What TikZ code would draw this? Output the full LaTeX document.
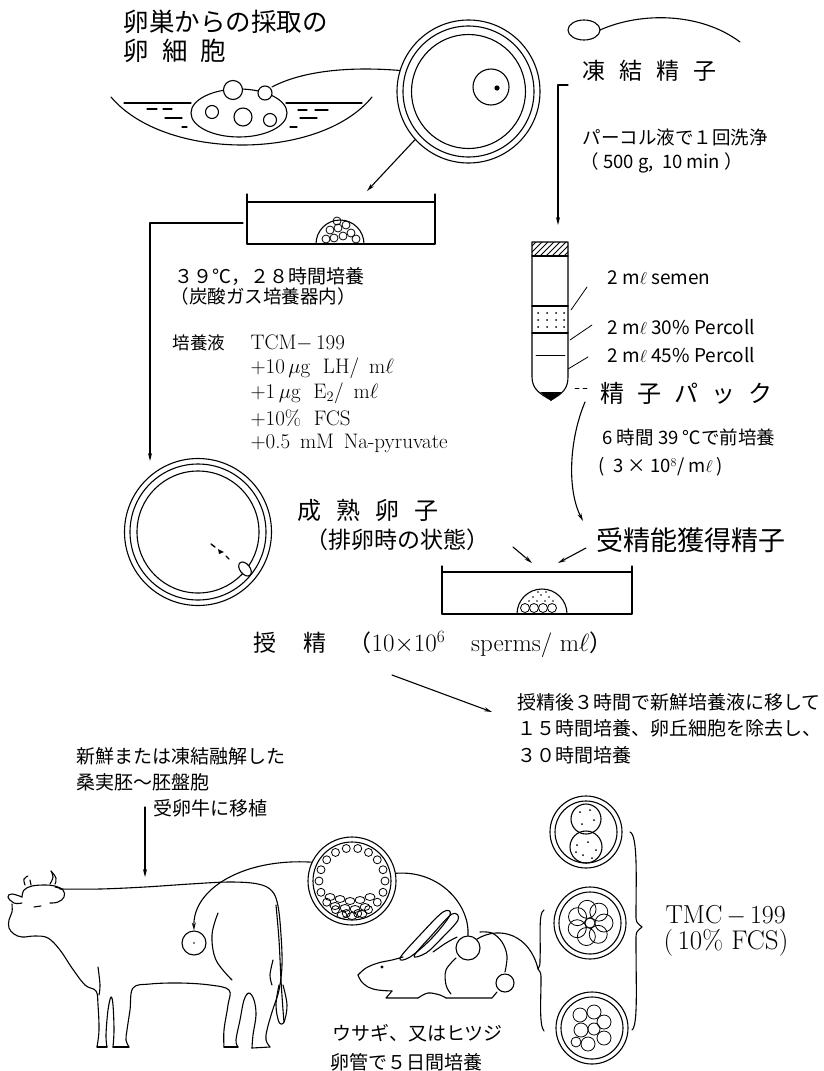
\documentclass[tikz,border=0pt]{standalone}
\usepackage{fontspec}
\newfontfamily\jpf{Noto Sans CJK JP}
\usetikzlibrary{arrows.meta,calc}
\newcommand{\fsz}[1]{\fontsize{#1}{#1}\selectfont}
\begin{document}
\begin{tikzpicture}[x=1pt,y=-1pt,line width=1.1pt,line cap=round,line join=round,
  txt/.style={inner sep=0pt,anchor=west},
  jp/.style={txt,font=\jpf\fsz{#1}},
  lm/.style={txt,font=\rmfamily\fsz{#1}},
  arr/.style={-{Stealth[length=8pt,width=4pt]}},
  thin/.style={line width=0.8pt},
  ring/.style={circle,draw,inner sep=0pt,minimum size=#1}]
\fill[white] (0,0) rectangle (824,1071);
\useasboundingbox (0,0) rectangle (824,1071);

% ---------- ovary and follicles ----------
\node[jp=25.5] (ovtitle) at (123,22) {卵巣からの採取の};
\node[jp=25.5] (ovtitle2) at (123,51) {卵\hspace{13pt}細\hspace{13pt}胞};
\draw (111,97) .. controls (165,161) and (320,161) .. (372,97);
\draw (124,103) -- (191,103) (286,103) -- (362,103);
\draw[fill=white] (239,113) ellipse [x radius=48pt,y radius=24pt];
\draw[fill=white] (233,90) circle[radius=9.5pt];
\draw[fill=white] (265,93) circle[radius=7pt];
\draw (212,112) circle[radius=6.5pt] (243,117) circle[radius=9pt] (270,120) circle[radius=6.5pt];
\draw (147,109)--(157,109) (163,109)--(172,109) (165,118)--(182,118) (182,127)--(187,127)
      (298,110)--(307,110) (315,110)--(328,110) (300,118)--(317,118) (290,127)--(297,127);
\coordinate (fol) at (272,87);

% ---------- collected oocyte ----------
\node[ring=143pt] (oo1) at (468.5,91.5) {};
\draw (oo1.center) circle[radius=65.5pt] (oo1.center) circle[radius=57pt];
\draw (491,87) circle[radius=18pt];
\fill (497,88) circle[radius=2.6pt];
\draw (fol) .. controls (300,72) and (345,66) .. (oo1.163);

% ---------- culture dish 1 ----------
\coordinate (d1in) at (367,191);
\draw[arr] (oo1.222) -- (d1in);
\draw (247,194) -- (247,244) -- (435,244) -- (435,194);
\draw (247,202) -- (435,202);
\draw (316,244) arc[start angle=180,end angle=0,radius=24pt];
\foreach \p in {(326,239),(334,238),(343,236),(351,233),(330,230),(338,228),(346,225),(337,221),(356,239)}
  \draw[thin] \p circle[radius=4pt];
\coordinate (d1left) at (243,223);
\coordinate (oo2in) at (150,461);
\draw[arr] (d1left) -- (150,223) -- (oo2in);

\node[jp=19] (cult) at (174,277) {３９℃，２８時間培養};
\node[jp=18.5] (co2) at (170,296) {（炭酸ガス培養器内）};
\node[jp=17.5] (med) at (172,343) {培養液};
\node[lm=21] (tcm) at (250,343) {TCM$-$\,199};
\node[lm=21] (lh) at (250,368) {+10\,$\mu$g\ \ LH/\ \,m$\ell$};
\node[lm=21] (e2) at (250,393) {+1\,$\mu$g\ \ E$_2$/\ \,m$\ell$};
\node[lm=21] (fcs1) at (250,418) {+10\%\ \ FCS};
\node[lm=21] (pyr) at (250,443) {+0.5\ \,mM\ \,Na-pyruvate};

% ---------- frozen sperm ----------
\draw (584,30) ellipse[x radius=16pt,y radius=10pt];
\coordinate (sphead) at (600,30);
\draw (sphead) .. controls (640,12) and (700,12) .. (740,42);
\node[jp=23] (frz) at (582,71) {凍\hspace{14pt}結\hspace{14pt}精\hspace{14pt}子};
\coordinate (frzc) at (568,85);
\coordinate (tubein) at (558,225);
\draw[arr] (frzc) -- (558,85) -- (tubein);
\node[jp=18.5] (wash) at (582,137) {パーコル液で１回洗浄};
\node[jp=18.5] (spin) at (580,163) {（ 500 g,\ \ 10 min ）};

% ---------- Percoll tube ----------
\coordinate (tubetip) at (551,400);
\draw (532,242) -- (532,377) .. controls (532,389) and (540,394) .. (tubetip)
      .. controls (562,394) and (568,389) .. (568,377) -- (568,242) -- cycle;
\draw (532,256) -- (568,256);
\begin{scope}
  \clip (532,242) rectangle (568,256);
  \foreach \i in {0,...,9} \draw[thin] (516+6*\i,256) -- (530+6*\i,242);
\end{scope}
\draw (532,306) -- (568,306) (532,333) -- (568,333);
\draw[thin] (536,355) -- (565,355);
\foreach \xx in {538,547,556,564} \foreach \yy in {313,320,327} \fill (\xx,\yy) circle[radius=1pt];
\fill (540,392) -- (562,392) -- (551,401) -- cycle;
\node[jp=19] (semen) at (607,278) {2 m$\ell$ semen};
\node[jp=19] (p30) at (607,327) {2 m$\ell$ 30\% Percoll};
\node[jp=19] (p45) at (607,355) {2 m$\ell$ 45\% Percoll};
\draw[thin] (587,287) -- (571,310);
\draw[thin] (592,325) -- (570,340);
\draw[thin] (588,357) -- (568,369);
\draw[thin,dash pattern=on 4pt off 4pt] (575,388) -- (590,388);
\node[jp=24] (pack) at (600,393) {精\hspace{13pt}子\hspace{13pt}パ\hspace{13pt}ッ\hspace{13pt}ク};
\node[jp=18.5] (pre) at (602,437) {6 時間 39 ℃で前培養};
\node[jp=18.5] (conc) at (598,467) {(\ \ 3 × 10$^8$/ m$\ell$\ )};
\coordinate (packc) at (585,402);
\coordinate (capin) at (583,521);
\draw[arr] (packc) .. controls (569,440) and (567,490) .. (capin);

% ---------- matured oocyte ----------
\node[ring=147pt] (oo2) at (198,532) {};
\draw (oo2.center) circle[radius=68pt] (oo2.center) circle[radius=61pt];
\draw[fill=white,rotate around={-52:(245,569)}] (245,569) ellipse[x radius=8pt,y radius=5pt];
\draw[line width=1.4pt] (211,544) -- (215,547) (226,556) -- (229,559);
\fill (218,549) -- (224,552) -- (219,554) -- cycle;
\node[jp=24] (mature) at (297,510) {成\hspace{15pt}熟\hspace{15pt}卵\hspace{15pt}子};
\node[jp=23] (ovstate) at (305,540) {（排卵時の状態）};
\node[jp=27] (capac) at (596,540) {受精能獲得精子};

% ---------- insemination dish ----------
\coordinate (ma) at (513,547);
\coordinate (mb) at (532,563);
\coordinate (ca) at (586,548);
\coordinate (cb) at (558,563);
\draw[arr] (ma) -- (mb);
\draw[arr] (ca) -- (cb);
\draw (442,566) -- (442,614) -- (632,614) -- (632,566);
\draw (442,572) -- (632,572);
\draw (517,614) arc[start angle=180,end angle=0,radius=25pt];
\foreach \xx in {525,534,543,552} \draw[thin] (\xx,608) circle[radius=4.5pt];
\foreach \xx/\yy in {533/597,541/595,549/597,529/601,537/601,545/601,553/601,538/592,546/592} \fill (\xx,\yy) circle[radius=0.9pt];

\node[txt] (insem) at (253,645) {{\jpf\fsz{23}授\hspace{27pt}精\hspace{22pt}（}{\rmfamily\fsz{25}10$\times$10$^{6}$\hspace{26pt}sperms/\ m$\ell$}{\jpf\fsz{23}）}};
\coordinate (ia) at (392,675);
\coordinate (ib) at (492,712);
\draw[arr] (ia) -- (ib);
\node[jp=19] (post1) at (517,702) {授精後３時間で新鮮培養液に移して};
\node[jp=19] (post2) at (517,728) {１５時間培養、卵丘細胞を除去し、};
\node[jp=19] (post3) at (517,755) {３０時間培養};

% ---------- transfer to recipient cow ----------
\node[jp=19] (trans1) at (76,756) {新鮮または凍結融解した};
\node[jp=19] (trans2) at (76,782) {桑実胚〜胚盤胞};
\node[jp=19] (trans3) at (153,808) {受卵牛に移植};
\coordinate (ta) at (145,807);
\coordinate (tb) at (145,877);
\draw[arr] (ta) -- (tb);

% cow
\draw plot[smooth,tension=0.6] coordinates {(60,889) (100,889) (145,887) (190,884) (230,882) (258,884) (272,891) (278,906) (281,935) (282,965) (279,990) (272,1012) (267,1030) (266,1040) (270,1047)};
\draw (270,1047) -- (252,1048);
\draw plot[smooth,tension=0.6] coordinates {(252,1048) (253,1035) (256,1015) (254,1000) (249,993) (244,1000) (240,1020) (236,1040) (238,1047)};
\draw (238,1047) -- (224,1047);
\draw plot[smooth,tension=0.6] coordinates {(224,1047) (224,1030) (228,1005) (229,990) (210,985) (180,983) (150,984) (133,988) (130,1010) (127,1030) (126,1040) (129,1047)};
\draw (129,1047) -- (113,1047);
\draw plot[smooth,tension=0.6] coordinates {(113,1047) (114,1030) (113,1005) (111,997) (108,1010) (106,1035) (107,1047)};
\draw (107,1047) -- (97,1047);
\draw plot[smooth,tension=0.6] coordinates {(97,1047) (99,1030) (98,1005) (96,991) (85,985) (72,968) (60,950) (48,938) (35,936) (22,937) (14,934) (9,928) (9,920) (12,912) (12,904)};
% cow head, ears, horns
\draw plot[smooth,tension=0.7] coordinates {(22,903) (14,903) (8,897) (12,894) (22,897)};
\draw plot[smooth,tension=0.6] coordinates {(22,897) (24,890) (32,886) (45,885) (55,886) (62,889)};
\draw plot[smooth,tension=0.7] coordinates {(55,887) (63,890) (64,897) (58,902) (50,903)};
\draw plot[smooth,tension=0.7] coordinates {(25,885) (24,879) (28,876)};
\draw plot[smooth,tension=0.7] coordinates {(31,885) (30,880)};
\draw plot[smooth,tension=0.7] coordinates {(50,884) (53,877) (51,871)};
\draw plot[smooth,tension=0.7] coordinates {(55,884) (56,878) (51,871)};
\draw (34,907) -- (41,906);
\draw plot[smooth,tension=0.6] coordinates {(98,967) (100,985) (99,995)};
% flank and tail
\draw plot[smooth,tension=0.6] coordinates {(218,913) (212,935) (216,960) (232,980)};
\draw plot[smooth,tension=0.6] coordinates {(276,905) (279,940) (281,980) (283,1010) (284,1022)};
\draw plot[smooth,tension=0.6] coordinates {(279,985) (276,1005) (279,1022) (284,1022) (287,1005) (283,985)};
\draw plot[smooth,tension=0.6] coordinates {(273,960) (270,975) (272,985)};

% blastocyst
\node[ring=88pt] (blast) at (352,881) {};
\draw (blast.center) circle[radius=39pt];
\foreach \a in {0,20,...,340} \draw[thin] ($(352,881)+(\a:33pt)$) circle[radius=4pt];
\foreach \p in {(330,897),(340,899),(350,901),(360,900),(370,897),(335,906),(345,908),(355,909),(365,907),(342,915),(352,916),(362,914)}
  \draw[thin] \p ellipse[x radius=5pt,y radius=3.5pt];
\node[ring=24pt] (cowov) at (194,943) {};
\fill (194,943) circle[radius=0.8pt];
\draw[arr] (blast.155) .. controls (245,858) and (193,888) .. (cowov.north);

% rabbit
\node[ring=24pt] (rbov) at (468,948) {};
\draw (blast.10) .. controls (440,870) and (470,905) .. (rbov.north);
\draw plot[smooth,tension=0.6] coordinates {(358,975) (366,968) (378,963) (392,960) (403,957)};
\draw plot[smooth cycle,tension=0.6] coordinates {(400,958) (420,935) (443,912) (450,915) (432,938) (410,957)};
\draw plot[smooth cycle,tension=0.6] coordinates {(414,956) (432,935) (452,914) (458,920) (440,940) (426,953)};
\draw plot[smooth,tension=0.6] coordinates {(433,952) (446,943) (457,937)};
\draw plot[smooth,tension=0.6] coordinates {(480,932) (492,933) (502,942) (507,956) (505,972)};
\draw (505,983) circle[radius=9pt];
\draw plot[smooth,tension=0.6] coordinates {(358,975) (361,981) (368,987) (378,990) (392,991)};
\draw (392,991) -- (386,998) -- (418,998);
\draw plot[smooth,tension=0.6] coordinates {(418,998) (428,993) (440,995) (446,998)};
\draw (446,998) -- (492,998) -- (497,992);
\draw plot[smooth,tension=0.6] coordinates {(456,958) (446,970) (446,985) (451,994)};
\fill (382,967) circle[radius=1.6pt];
\node[jp=19] (rab1) at (332,1033) {ウサギ、又はヒツジ};
\node[jp=19] (rab2) at (330,1062) {卵管で５日間培養};

% embryos
\node[ring=72pt] (emb1) at (586,832) {};
\draw (emb1.center) circle[radius=31pt];
\draw (586,819) circle[radius=15pt];
\draw (586,847) circle[radius=16pt];
\foreach \p in {(580,812),(590,810),(594,820),(582,824),(577,845),(588,842),(596,850),(583,855),(592,858),(576,852)}
  \fill \p circle[radius=1pt];
\node[ring=72pt] (emb2) at (590,923) {};
\draw (emb2.center) circle[radius=31pt];
\foreach \a in {0,51,...,306} \draw[thin] ($(590,923)+(\a:14pt)$) circle[radius=9pt];
\draw[thin] (590,923) circle[radius=5pt];
\node[ring=72pt] (emb3) at (592,1028) {};
\draw (emb3.center) circle[radius=31pt];
\foreach \p/\r in {(580,1015)/7,(594,1012)/7,(604,1022)/7,(581,1030)/7,(594,1029)/6,(604,1038)/7,(588,1044)/7,(576,1042)/5}
  \draw[thin] \p circle[radius=\r pt];
\coordinate (lbtip) at (538,969);
\draw (rbov.45) .. controls (500,925) and (530,935) .. (lbtip);
\draw (544,910) .. controls (538,912) and (541,940) .. (540,960) .. controls (540,965) .. (lbtip)
      .. controls (541,973) .. (541,980) .. controls (541,1000) and (539,1025) .. (544,1031);
\draw (630,832) .. controls (638,835) and (636,880) .. (636,915) .. controls (636,922) .. (642,927)
      .. controls (636,932) .. (636,940) .. controls (636,990) and (638,1025) .. (632,1030);
\node[lm=26] (tmc) at (665,915) {TMC$\,-\,$199};
\node[lm=27] (fcs) at (663,943) {(\,10\%\ FCS)};
\end{tikzpicture}
\end{document}
